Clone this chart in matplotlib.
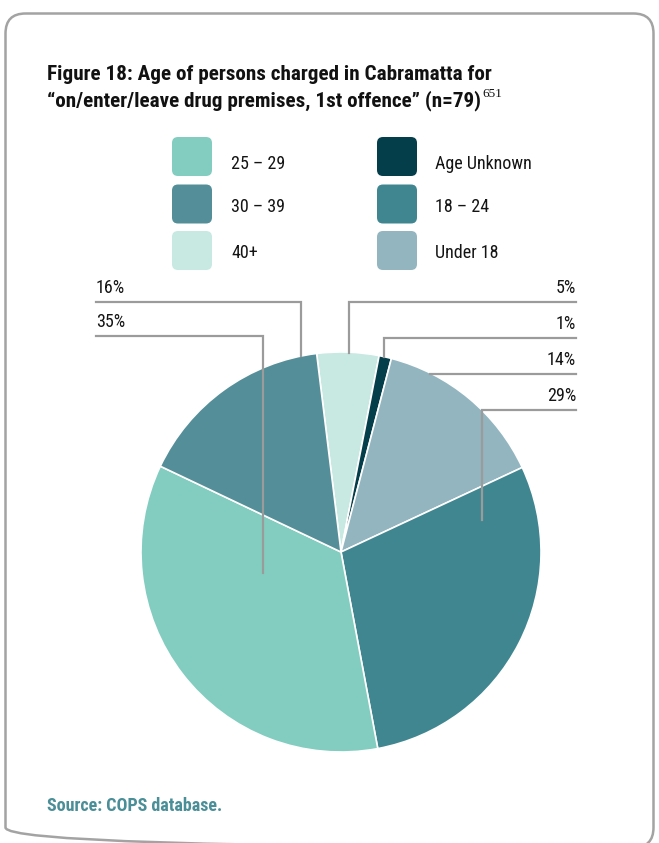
import matplotlib
matplotlib.use("Agg")
import matplotlib.pyplot as plt
from matplotlib.patches import FancyBboxPatch

# data
labels = ["40+", "Age Unknown", "Under 18", "18 – 24", "25 – 29", "30 – 39"]
shares = [5, 1, 14, 29, 35, 16]
colors = ["#c8e8e2", "#033e4a", "#92b5bf", "#408690", "#82cdc0", "#548e98"]
legend_order = ["25 – 29", "30 – 39", "40+", "Age Unknown", "18 – 24", "Under 18"]

title_1 = "Figure 18: Age of persons charged in Cabramatta for"
title_2 = "\u201con/enter/leave drug premises, 1st offence\u201d (n=79)"
note_ref = "651"
source = "Source: COPS database."

FONT = ["Roboto Condensed", "DejaVu Sans"]
INK = "#141414"

W, H = 659, 843
fig = plt.figure(figsize=(W / 100, H / 100), dpi=100)

# pie, centre (341, 552) px, radius 200 px
cx, cy, r = 341, 552, 200
ax = fig.add_axes([(cx - r) / W, (H - cy - r) / H, 2 * r / W, 2 * r / H])
wedges, _ = ax.pie(shares, colors=colors, startangle=97, counterclock=False,
                   wedgeprops=dict(edgecolor="white", linewidth=1.2))
ax.set_xlim(-1, 1)
ax.set_ylim(-1, 1)
ax.axis("off")

# leader lines: (label x, line level, anchor x, anchor y, side) in pie units
leaders = {
    "30 – 39": (-1.225, 1.25, -0.2, 0.98, "left"),
    "25 – 29": (-1.225, 1.08, -0.39, -0.105, "left"),
    "40+": (1.175, 1.25, 0.04, 0.995, "right"),
    "Age Unknown": (1.175, 1.07, 0.215, 0.975, "right"),
    "Under 18": (1.175, 0.89, 0.445, 0.89, "right"),
    "18 – 24": (1.175, 0.71, 0.705, 0.16, "right"),
}
line_col = "#9b9b9b"
for lab, val in zip(labels, shares):
    lx, ly, axx, ayy, side = leaders[lab]
    ax.plot([lx, axx, axx], [ly, ly, ayy], color=line_col, lw=1.6,
            clip_on=False, solid_joinstyle="miter", zorder=5)
    ax.text(lx, ly + 0.045, f"{val}%", ha=side, va="baseline",
            fontsize=13, family=FONT, weight="normal", color=INK)

# overlay in pixel coordinates for frame, titles and legend
ov = fig.add_axes([0, 0, 1, 1], facecolor="none")
ov.set_xlim(0, W)
ov.set_ylim(H, 0)
ov.axis("off")

ov.add_patch(FancyBboxPatch((5.5, 13.5), 648, 834, boxstyle="round,pad=0,rounding_size=20",
                            fill=False, edgecolor="#a3a3a3", lw=1.8, clip_on=False))

ov.text(47, 80, title_1, fontsize=15.2, family=FONT, weight="bold",
        va="baseline", ha="left", color="#111111")
t2 = ov.text(47, 106, title_2, fontsize=15.2, family=FONT, weight="bold",
             va="baseline", ha="left", color="#111111")
fig.canvas.draw()
bb = t2.get_window_extent().transformed(ov.transData.inverted())
ov.text(bb.x1 + 1, 97, note_ref, fontsize=9.5, family="Liberation Serif",
        va="baseline", ha="left", color="#111111")

# legend
box_x = [172, 377]
text_x = [231, 435]
box_top = [137, 184.5, 231]
text_base = [169, 212, 258]
col_of = dict(zip(labels, colors))
for i, lab in enumerate(legend_order):
    c, rr = divmod(i, 3)
    ov.add_patch(FancyBboxPatch((box_x[c], box_top[rr]), 40, 39,
                                boxstyle="round,pad=0,rounding_size=6",
                                facecolor=col_of[lab], edgecolor="none"))
    ov.text(text_x[c], text_base[rr], lab, fontsize=13, family=FONT,
            weight="normal", va="baseline", ha="left", color=INK)

ov.text(47, 811, source, fontsize=13, family=FONT, weight="bold",
        va="baseline", ha="left", color="#4a8e98")

fig.savefig("out.png", dpi=100)
